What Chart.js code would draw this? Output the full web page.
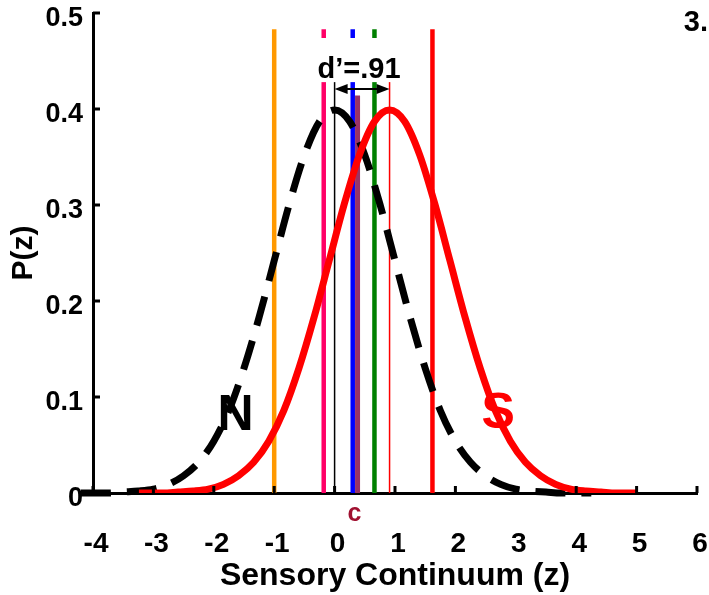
<!DOCTYPE html>
<html>
<head>
<meta charset="utf-8">
<script src="https://cdn.jsdelivr.net/npm/chart.js@4.4.1/dist/chart.umd.min.js"></script>
<style>
html, body { margin: 0; padding: 0; background: #fff; }
#caixa { width: 709px; height: 595px; }
</style>
</head>
<body>
<div id="caixa"><canvas id="grafico" width="709" height="595"></canvas></div>
<script>
// noise distribution (N)
var noiseZ = [-4.2, -4, -3.75, -3.5, -3.25, -3, -2.75, -2.5, -2.25, -2, -1.75, -1.5, -1.25, -1, -0.75, -0.5, -0.25, 0,
    0.25, 0.5, 0.75, 1, 1.25, 1.5, 1.75, 2, 2.25, 2.5, 2.75, 3, 3.25, 3.5, 3.75, 4, 4.25];
var noiseP = [0, 0, 0, 0.001, 0.002, 0.004, 0.009, 0.018, 0.032, 0.054, 0.086, 0.130, 0.183, 0.242, 0.301, 0.352, 0.387, 0.399,
    0.387, 0.352, 0.301, 0.242, 0.183, 0.130, 0.086, 0.054, 0.032, 0.018, 0.009, 0.004, 0.002, 0.001, 0, 0, 0];

// signal distribution (S), the solid red curve
var signalZ = [-3.24, -3.09, -2.84, -2.59, -2.34, -2.09, -1.84, -1.59, -1.34, -1.09, -0.84, -0.59, -0.34, -0.09, 0.16, 0.41, 0.66, 0.91,
    1.16, 1.41, 1.66, 1.91, 2.16, 2.41, 2.66, 2.91, 3.16, 3.41, 3.66, 3.91, 4.16, 4.41, 4.66, 4.91, 5.0];
var signalP = [0, 0, 0, 0.001, 0.002, 0.004, 0.009, 0.018, 0.032, 0.054, 0.086, 0.130, 0.183, 0.242, 0.301, 0.352, 0.387, 0.399,
    0.387, 0.352, 0.301, 0.242, 0.183, 0.130, 0.086, 0.054, 0.032, 0.018, 0.009, 0.004, 0.002, 0.001, 0, 0, 0];

// criterion lines
var criterionZ = [-1.0, -0.18, 0.30, 0.66, 1.62];
var criterionTop = 0.483;
var criterionColors = ['#ff9900', '#ff0066', '#0000ff', '#008000', '#ff0000'];

// means of N and S (thin lines) and the c marker
var meanZ = [0, 0.91];
var meanTop = 0.428;
var meanColors = ['#000000', '#ff0000'];
var cZ = 0.38;
var cTop = 0.414;

var xTicks = [-4, -3, -2, -1, 0, 1, 2, 3, 4, 5, 6];
var yTicks = [0, 0.1, 0.2, 0.3, 0.4, 0.5];
var yLabels = ['0', '0.1', '0.2', '0.3', '0.4', '0.5'];

function pares(xs, ys) {
    return xs.map(function (v, i) { return { x: v, y: ys[i] }; });
}

Chart.defaults.font.family = '"Liberation Sans", Arial, sans-serif';
Chart.defaults.font.weight = 'bold';
Chart.defaults.color = '#000';

var datasets = [];
datasets.push({
    data: pares(noiseZ, noiseP), borderColor: '#000', borderWidth: 7, borderDash: [30, 16],
    borderCapStyle: 'butt', pointRadius: 0, cubicInterpolationMode: 'monotone', order: 2,
    clip: { left: 12, right: 5, top: 5, bottom: 5 }
});
datasets.push({
    data: pares(signalZ, signalP), borderColor: '#ff0000', borderWidth: 7,
    pointRadius: 0, cubicInterpolationMode: 'monotone', order: 1
});
criterionZ.forEach(function (z, i) {
    datasets.push({
        data: [{ x: z, y: 0 }, { x: z, y: criterionTop }], borderColor: criterionColors[i], borderWidth: 4.5,
        pointRadius: 0, order: 5
    });
});
meanZ.forEach(function (z, i) {
    datasets.push({
        data: [{ x: z, y: 0 }, { x: z, y: meanTop }], borderColor: meanColors[i], borderWidth: 1.5,
        pointRadius: 0, order: 4
    });
});
datasets.push({
    data: [{ x: cZ, y: 0 }, { x: cZ, y: cTop }], borderColor: '#993366', borderWidth: 5,
    pointRadius: 0, order: 3
});

// inward tick marks, like the original figure
var marcasInternas = {
    id: 'marcasInternas',
    afterDraw: function (chart) {
        var ctx = chart.ctx, sx = chart.scales.x, sy = chart.scales.y;
        ctx.save();
        ctx.strokeStyle = '#000';
        ctx.lineWidth = 3;
        xTicks.forEach(function (v) {
            var px = sx.getPixelForValue(v);
            ctx.beginPath(); ctx.moveTo(px, sy.bottom); ctx.lineTo(px, sy.bottom - 7); ctx.stroke();
        });
        yTicks.forEach(function (v) {
            var py = sy.getPixelForValue(v);
            ctx.beginPath(); ctx.moveTo(sx.left, py); ctx.lineTo(sx.left + 7, py); ctx.stroke();
        });
        ctx.restore();
    }
};

// text, d' arrow and the white label box
var anotacoes = {
    id: 'anotacoes',
    afterDatasetsDraw: function (chart) {
        var ctx = chart.ctx, sx = chart.scales.x, sy = chart.scales.y;
        var x0 = sx.getPixelForValue(meanZ[0]), x1 = sx.getPixelForValue(meanZ[1]);
        var yTopo = sy.getPixelForValue(meanTop);
        ctx.save();
        ctx.fillStyle = '#fff';
        ctx.fillRect(x0 - 29, 38, 107, yTopo - 38);

        ctx.fillStyle = '#000';
        ctx.font = 'bold 29px "Liberation Sans", Arial';
        ctx.textAlign = 'center';
        ctx.textBaseline = 'alphabetic';
        ctx.fillText('d\u2019=.91', (x0 + x1) / 2 - 3, 78);

        var ya = yTopo + 7;
        ctx.strokeStyle = '#000';
        ctx.lineWidth = 2;
        ctx.beginPath(); ctx.moveTo(x0 + 6, ya); ctx.lineTo(x1 - 6, ya); ctx.stroke();
        ctx.beginPath(); ctx.moveTo(x0, ya); ctx.lineTo(x0 + 13, ya - 5); ctx.lineTo(x0 + 13, ya + 5); ctx.closePath(); ctx.fill();
        ctx.beginPath(); ctx.moveTo(x1, ya); ctx.lineTo(x1 - 13, ya - 5); ctx.lineTo(x1 - 13, ya + 5); ctx.closePath(); ctx.fill();

        ctx.textBaseline = 'middle';
        ctx.font = 'bold 50px "Liberation Sans", Arial';
        ctx.fillText('N', sx.getPixelForValue(-1.64), sy.getPixelForValue(0.08));
        ctx.fillStyle = '#ff0000';
        ctx.fillText('S', sx.getPixelForValue(2.71), sy.getPixelForValue(0.082));

        ctx.fillStyle = '#a01030';
        ctx.font = 'bold 25px "Liberation Sans", Arial';
        ctx.fillText('c', sx.getPixelForValue(cZ) - 3, sy.bottom + 21);

        ctx.fillStyle = '#000';
        ctx.font = 'bold 29px "Liberation Sans", Arial';
        ctx.textAlign = 'right';
        ctx.fillText('3.', 708, 23);
        ctx.restore();
    }
};

new Chart(document.getElementById('grafico'), {
    type: 'line',
    data: { datasets: datasets },
    plugins: [marcasInternas, anotacoes],
    options: {
        responsive: false,
        animation: false,
        devicePixelRatio: 1,
        layout: { padding: { top: 13, right: 12, left: 0, bottom: 0 } },
        plugins: { legend: { display: false }, tooltip: { enabled: false } },
        scales: {
            x: {
                type: 'linear', min: -4, max: 6,
                afterBuildTicks: function (s) { s.ticks = xTicks.map(function (v) { return { value: v }; }); },
                afterFit: function (s) { s.height = 102; s.paddingLeft = 0; s.paddingRight = 0; },
                grid: { drawOnChartArea: false, drawTicks: false },
                border: { color: '#000', width: 3 },
                ticks: { font: { size: 28, weight: 'bold' }, padding: 34, labelOffset: 3, maxRotation: 0 },
                title: { display: true, text: 'Sensory Continuum (z)', font: { size: 32, weight: 'bold' }, padding: { top: 0, bottom: 0 } }
            },
            y: {
                min: 0, max: 0.5,
                afterBuildTicks: function (s) { s.ticks = yTicks.map(function (v) { return { value: v }; }); },
                afterFit: function (s) { s.width = 93; s.paddingTop = 0; s.paddingBottom = 0; },
                grid: { drawOnChartArea: false, drawTicks: false },
                border: { color: '#000', width: 3 },
                ticks: {
                    font: { size: 27, weight: 'bold' }, padding: 10, labelOffset: 6,
                    callback: function (v, i) { return yLabels[i]; }
                },
                title: { display: true, text: 'P(z)', font: { size: 30, weight: 'bold' }, padding: { top: 6, bottom: 0 } }
            }
        }
    }
});
</script>
</body>
</html>
